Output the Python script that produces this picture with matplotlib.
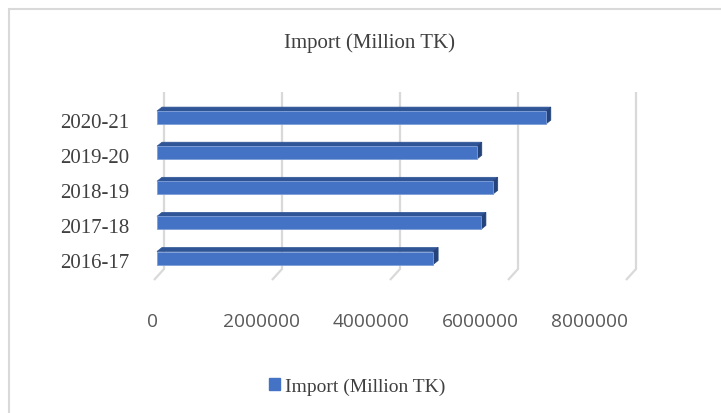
import matplotlib.pyplot as plt
from matplotlib.patches import Rectangle, Polygon, Patch

# data
years = ["2016-17", "2017-18", "2018-19", "2019-20", "2020-21"]
imports = [4680000, 5490000, 5690000, 5420000, 6590000]
ticks = [0, 2000000, 4000000, 6000000, 8000000]
series_name = "Import (Million TK)"

W, H = 721, 414
front = "#4472c4"
top_col = "#2f5597"
side_col = "#24437a"
grid_col = "#d9d9d9"


def fx(px):
    return px / W


def fy(px):
    return 1 - px / H


fig = plt.figure(figsize=(W / 100, H / 100), dpi=100)

# outer chart frame (cut off on the right and bottom like the reference)
fig.patches.append(Rectangle((fx(9), fy(H + 20)), 1.2, fy(10) - fy(H + 20),
                             transform=fig.transFigure, fill=False,
                             edgecolor=grid_col, linewidth=1.5))

# main plotting area, pixel box 140..660 x 85..290
left, right, top, bottom = 140, 660, 85, 290
ax = fig.add_axes([fx(left), fy(bottom), fx(right - left), fy(top) - fy(bottom)])

px_x = 8000000 / 472.0          # value units per pixel
row_px = 35.1                   # pixels between categories
px_y = 1 / row_px
zero_px = 157
last_centre_px = 259

ax.set_xlim(-(zero_px - left) * px_x, (right - zero_px) * px_x)
ax.set_ylim(-(bottom - last_centre_px) * px_y, (last_centre_px - top) * px_y)
ax.axis("off")

# 3D gridlines on the back wall and floor
back_dx = 7 * px_x
y_top = (last_centre_px - 93) * px_y
y_wall = (last_centre_px - 270) * px_y
y_floor = (last_centre_px - 281) * px_y
for t in ticks:
    xb = t + back_dx
    ax.plot([xb, xb, xb - 10 * px_x], [y_top, y_wall, y_floor],
            color=grid_col, linewidth=1.6, zorder=1, solid_capstyle="butt")

# 3D bars
bar_h = 13 * px_y
dx = 5 * px_x
dy = 4 * px_y
for i, v in enumerate(imports):
    y0 = i - bar_h / 2
    y1 = i + bar_h / 2
    ax.add_patch(Polygon([(0, y1), (v, y1), (v + dx, y1 + dy), (dx, y1 + dy)],
                         closed=True, facecolor=top_col, edgecolor=top_col,
                         linewidth=0.5, zorder=3))
    ax.add_patch(Polygon([(v, y0), (v, y1), (v + dx, y1 + dy), (v + dx, y0 + dy)],
                         closed=True, facecolor=side_col, edgecolor=side_col,
                         linewidth=0.5, zorder=3))
    ax.add_patch(Rectangle((0, y0), v, bar_h, facecolor=front,
                           edgecolor="#7f9fd8", linewidth=0.6, zorder=4))

# category labels
for i, name in enumerate(years):
    ax.text(-(zero_px - 129) * px_x, i - 5 * px_y, name, ha="right", va="center",
            fontsize=15, family="Liberation Serif", color="#404040")

# value axis labels (front edge of the floor uses its own scale)
ax_lab = fig.add_axes([fx(152), fy(313), fx(590 - 152), 0.0001])
ax_lab.set_xlim(0, 8000000)
ax_lab.set_xticks(ticks)
ax_lab.set_xticklabels([str(t) for t in ticks], fontsize=13.8,
                       family="Open Sans", color="#595959")
ax_lab.tick_params(axis="x", length=0, pad=0)
ax_lab.set_yticks([])
for s in ax_lab.spines.values():
    s.set_visible(False)
ax_lab.patch.set_visible(False)

# title
fig.text(fx(370), fy(43), series_name, ha="center", va="center",
         fontsize=15, family="Liberation Serif", color="#404040")

# legend
fig.legend(handles=[Patch(facecolor=front, edgecolor=front, label=series_name)],
           loc="center", bbox_to_anchor=(fx(357), fy(387)), frameon=False,
           prop={"family": "Liberation Serif", "size": 14},
           handlelength=0.6, handleheight=0.6, handletextpad=0.25,
           labelcolor="#404040")

fig.savefig("out.png", dpi=100)
